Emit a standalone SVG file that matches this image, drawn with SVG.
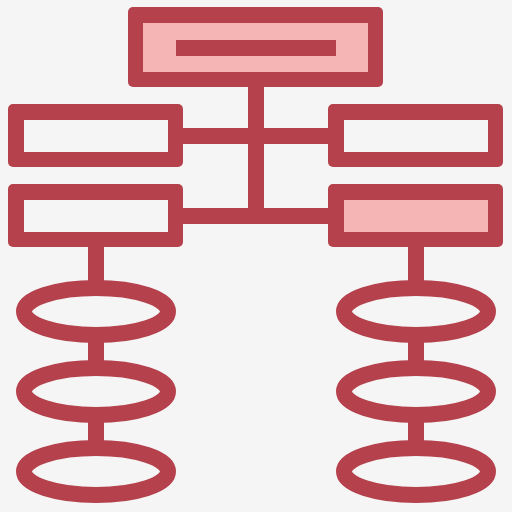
<svg xmlns="http://www.w3.org/2000/svg" width="512" height="512" viewBox="0 0 512 512">
<style>
.o{fill:#b5414d}
.w{fill:#f5f5f5}
.p{fill:#f5b5b5}
.c{fill:#b5414d}
.e{fill:none;stroke:#b5414d;stroke-width:16}
</style>
<rect width="512" height="512" fill="#f5f5f5"/>
<g id="connectors">
<rect class="c" x="248" y="80" width="16" height="144"/>
<rect class="c" x="176" y="128" width="160" height="16"/>
<rect class="c" x="176" y="208" width="160" height="16"/>
<rect class="c" x="88" y="240" width="16" height="48"/>
<rect class="c" x="88" y="335" width="16" height="33"/>
<rect class="c" x="88" y="415" width="16" height="33"/>
<rect class="c" x="408" y="240" width="16" height="48"/>
<rect class="c" x="408" y="335" width="16" height="33"/>
<rect class="c" x="408" y="415" width="16" height="33"/>
</g>
<g id="top">
<rect class="o" x="128" y="7" width="255" height="80" rx="5"/>
<rect class="p" x="143" y="23" width="225" height="49"/>
<rect class="o" x="176" y="40" width="160" height="16"/>
</g>
<g id="left1">
<rect class="o" x="8" y="104" width="175" height="63" rx="5"/>
<rect class="w" x="24" y="120" width="144" height="32"/>
</g>
<g id="left2">
<rect class="o" x="8" y="184" width="175" height="63" rx="5"/>
<rect class="w" x="24" y="200" width="144" height="32"/>
</g>
<g id="right1">
<rect class="o" x="328" y="104" width="175" height="63" rx="5"/>
<rect class="w" x="344" y="120" width="144" height="32"/>
</g>
<g id="right2">
<rect class="o" x="328" y="184" width="175" height="63" rx="5"/>
<rect class="p" x="344" y="200" width="144" height="32"/>
</g>
<g id="le1"><ellipse class="e" cx="96" cy="311.5" rx="72" ry="23.5"/></g>
<g id="le2"><ellipse class="e" cx="96" cy="391.5" rx="72" ry="23.5"/></g>
<g id="le3"><ellipse class="e" cx="96" cy="471.5" rx="72" ry="23.5"/></g>
<g id="re1"><ellipse class="e" cx="416" cy="311.5" rx="72" ry="23.5"/></g>
<g id="re2"><ellipse class="e" cx="416" cy="391.5" rx="72" ry="23.5"/></g>
<g id="re3"><ellipse class="e" cx="416" cy="471.5" rx="72" ry="23.5"/></g>
</svg>
